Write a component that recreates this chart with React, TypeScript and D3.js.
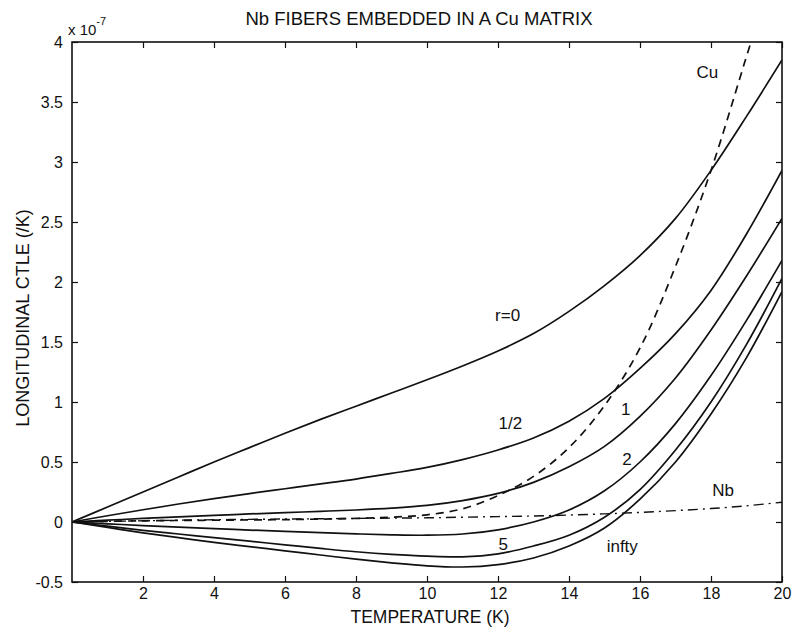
import { useEffect, useRef } from 'react';
import * as d3 from 'd3';

// temperatures (K) shared by the fiber curves and the Nb curve
const temps = [0, 1, 2, 3, 4, 5, 6, 7, 8, 9, 10, 11, 12, 13, 14, 15, 16, 17, 18, 19, 20];

// longitudinal CTLE, units of 1e-7 /K
const r0 = [0, 0.125, 0.25, 0.375, 0.5, 0.62, 0.74, 0.855, 0.965, 1.075, 1.185, 1.3, 1.425, 1.57, 1.755, 1.97, 2.22, 2.53, 2.93, 3.38, 3.85];
const rHalf = [0, 0.052, 0.102, 0.15, 0.195, 0.237, 0.277, 0.317, 0.358, 0.405, 0.455, 0.52, 0.6, 0.7, 0.84, 1.03, 1.28, 1.57, 1.93, 2.4, 2.93];
const r1 = [0, 0.015, 0.03, 0.043, 0.055, 0.067, 0.078, 0.089, 0.1, 0.115, 0.138, 0.178, 0.238, 0.33, 0.46, 0.63, 0.88, 1.2, 1.6, 2.05, 2.53];
const r2 = [0, -0.015, -0.03, -0.043, -0.055, -0.067, -0.078, -0.089, -0.099, -0.107, -0.11, -0.1, -0.065, 0.0, 0.1, 0.26, 0.5, 0.82, 1.22, 1.68, 2.18];
const r5 = [0, -0.035, -0.07, -0.1, -0.13, -0.16, -0.19, -0.22, -0.248, -0.27, -0.285, -0.29, -0.265, -0.2, -0.11, 0.04, 0.27, 0.6, 1.0, 1.48, 2.03];
const rInf = [0, -0.045, -0.09, -0.13, -0.17, -0.205, -0.24, -0.275, -0.31, -0.34, -0.365, -0.375, -0.355, -0.3, -0.2, -0.05, 0.19, 0.5, 0.9, 1.37, 1.92];
const nb = [0, 0.005, 0.01, 0.015, 0.019, 0.022, 0.025, 0.027, 0.03, 0.032, 0.035, 0.04, 0.045, 0.05, 0.058, 0.068, 0.08, 0.095, 0.112, 0.135, 0.165];

// Cu runs off the top, so it has its own temperatures
const cuTemps = [0, 2, 4, 6, 8, 9, 10, 11, 12, 13, 14, 15, 16, 17, 18, 19, 19.15];
const cu = [0, 0.01, 0.015, 0.02, 0.03, 0.04, 0.06, 0.11, 0.22, 0.38, 0.62, 0.97, 1.45, 2.13, 2.93, 3.88, 4.02];

const xTicks = [2, 4, 6, 8, 10, 12, 14, 16, 18, 20];
const yTicks = [-0.5, 0, 0.5, 1, 1.5, 2, 2.5, 3, 3.5, 4];

// label centres
const labels = [
  { text: 'r=0', t: 12.27, v: 1.73 },
  { text: '1/2', t: 12.35, v: 0.83 },
  { text: '1', t: 15.6, v: 0.94 },
  { text: '2', t: 15.63, v: 0.53 },
  { text: '5', t: 12.15, v: -0.18 },
  { text: 'infty', t: 15.5, v: -0.2 },
  { text: 'Nb', t: 18.34, v: 0.27 },
  { text: 'Cu', t: 17.9, v: 3.75 },
];

const FONT = '"Liberation Sans", Arial, Helvetica, sans-serif';

const App = () => {
  const svgRef = useRef(null);

  useEffect(() => {
    const svg = d3.select(svgRef.current);
    svg.selectAll('*').remove();

    const left = 72, right = 782, top = 42, bottom = 582;

    const x = d3.scaleLinear().domain([0, 20]).range([left, right]);
    const y = d3.scaleLinear().domain([-0.5, 4]).range([bottom, top]);

    svg.append('defs').append('clipPath').attr('id', 'plotclip')
      .append('rect')
      .attr('x', left).attr('y', top)
      .attr('width', right - left).attr('height', bottom - top);

    // title
    svg.append('text')
      .attr('x', 419).attr('y', 25)
      .attr('text-anchor', 'middle')
      .style('font-family', FONT)
      .style('font-size', '18.5px')
      .attr('fill', '#111')
      .text('Nb FIBERS EMBEDDED IN A Cu MATRIX');

    // axes, ticks inward on all sides
    const tickLen = 6;
    const fmt = (d) => String(d);
    svg.append('g')
      .attr('transform', `translate(0,${bottom})`)
      .call(d3.axisBottom(x).tickValues(xTicks).tickSizeInner(-tickLen).tickSizeOuter(0).tickPadding(6).tickFormat(fmt));
    svg.append('g')
      .attr('transform', `translate(0,${top})`)
      .call(d3.axisTop(x).tickValues(xTicks).tickSizeInner(-tickLen).tickSizeOuter(0).tickFormat(() => ''));
    svg.append('g')
      .attr('transform', `translate(${left},0)`)
      .call(d3.axisLeft(y).tickValues(yTicks).tickSizeInner(-tickLen).tickSizeOuter(0).tickPadding(9).tickFormat(fmt));
    svg.append('g')
      .attr('transform', `translate(${right},0)`)
      .call(d3.axisRight(y).tickValues(yTicks).tickSizeInner(-tickLen).tickSizeOuter(0).tickFormat(() => ''));

    svg.selectAll('.domain').remove();
    svg.selectAll('.tick line').attr('stroke', '#111').attr('stroke-width', 1.2);
    svg.selectAll('.tick text')
      .style('font-family', FONT)
      .style('font-size', '16px')
      .attr('fill', '#111');

    svg.append('rect')
      .attr('x', left).attr('y', top)
      .attr('width', right - left).attr('height', bottom - top)
      .attr('fill', 'none').attr('stroke', '#111').attr('stroke-width', 1.6);

    // exponent
    const exp = svg.append('text')
      .attr('x', 68).attr('y', 35)
      .style('font-family', FONT)
      .style('font-size', '15px')
      .attr('fill', '#111');
    exp.append('tspan').text('x 10');
    exp.append('tspan').attr('dy', -10).style('font-size', '11px').text('-7');

    // axis titles
    svg.append('text')
      .attr('x', 430).attr('y', 623)
      .attr('text-anchor', 'middle')
      .style('font-family', FONT)
      .style('font-size', '17.5px')
      .attr('fill', '#111')
      .text('TEMPERATURE (K)');
    svg.append('text')
      .attr('transform', 'translate(29,318) rotate(-90)')
      .attr('text-anchor', 'middle')
      .style('font-family', FONT)
      .style('font-size', '18px')
      .attr('fill', '#111')
      .text('LONGITUDINAL CTLE (/K)');

    const line = d3.line()
      .x(d => x(d[0]))
      .y(d => y(d[1]))
      .curve(d3.curveCatmullRom.alpha(0.5));

    const plot = svg.append('g').attr('clip-path', 'url(#plotclip)');

    const solid = [r0, rHalf, r1, r2, r5, rInf];
    solid.forEach(vals => {
      plot.append('path')
        .datum(temps.map((t, i) => [t, vals[i]]))
        .attr('d', line)
        .attr('fill', 'none')
        .attr('stroke', '#111')
        .attr('stroke-width', 1.7);
    });

    plot.append('path')
      .datum(temps.map((t, i) => [t, nb[i]]))
      .attr('d', line)
      .attr('fill', 'none')
      .attr('stroke', '#111')
      .attr('stroke-width', 1.4)
      .attr('stroke-dasharray', '10,5,2,5');

    plot.append('path')
      .datum(cuTemps.map((t, i) => [t, cu[i]]))
      .attr('d', line)
      .attr('fill', 'none')
      .attr('stroke', '#111')
      .attr('stroke-width', 1.7)
      .attr('stroke-dasharray', '8,6');

    // curve labels
    svg.selectAll('.clabel')
      .data(labels)
      .enter()
      .append('text')
      .attr('class', 'clabel')
      .attr('x', d => x(d.t))
      .attr('y', d => y(d.v))
      .attr('dy', '0.36em')
      .attr('text-anchor', 'middle')
      .style('font-family', FONT)
      .style('font-size', '17px')
      .attr('fill', '#111')
      .text(d => d.text);
  }, []);

  return (
    <div style={{ position: 'absolute', left: 0, top: 0, background: '#fff' }}>
      <svg ref={svgRef} width={794} height={627}></svg>
    </div>
  );
};

export default App;
